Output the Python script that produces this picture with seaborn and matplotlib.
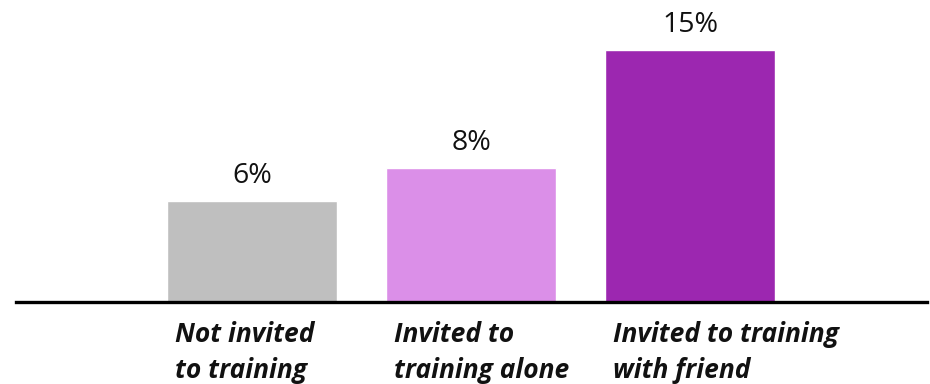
import matplotlib
matplotlib.use("Agg")
import matplotlib.pyplot as plt
import seaborn as sns
import pandas as pd

categories = ["Not invited\nto training", "Invited to\ntraining alone", "Invited to training\nwith friend"]
values = [6, 8, 15]
value_labels = ["6%", "8%", "15%"]
colors = ["#bfbfbf", "#db8fe8", "#9c27b0"]

sns.set_theme(style="white")
plt.rcParams['font.family'] = ['Open Sans', 'DejaVu Sans']

df = pd.DataFrame({"cat": categories, "val": values})

W, H = 930, 384
fig = plt.figure(figsize=(W / 100, H / 100), dpi=100)
base_px = 302
ax = fig.add_axes([16 / W, (H - base_px) / H, (927 - 16) / W, base_px / H])

bw = 170 / 219
sns.barplot(data=df, x="cat", y="val", hue="cat", palette=colors, legend=False,
            width=bw, ax=ax, saturation=1)

ax.set_xlim(-(252 - 16) / 219, (927 - 252) / 219)
ax.set_ylim(0, base_px / 16.8)

for s in ["top", "right", "left"]:
    ax.spines[s].set_visible(False)
ax.spines["bottom"].set_linewidth(2.4)
ax.spines["bottom"].set_color("black")
ax.set_xticks([])
ax.set_yticks([])
ax.set_xlabel("")
ax.set_ylabel("")

for i, (v, lab) in enumerate(zip(values, value_labels)):
    ax.annotate(lab, (i, v), xytext=(0, 13), textcoords="offset points",
                ha="center", va="baseline", fontsize=20.5, fontweight="medium",
                color="#111111")

for i, c in enumerate(categories):
    for j, line in enumerate(c.split("\n")):
        ax.annotate(line, (i - bw / 2, 0), xytext=(5.5, -29 - 25.5 * j),
                    textcoords="offset points",
                    ha="left", va="baseline", fontsize=19, fontweight="bold",
                    fontstyle="italic", color="#111111", annotation_clip=False)

fig.savefig("out.png", dpi=100)
